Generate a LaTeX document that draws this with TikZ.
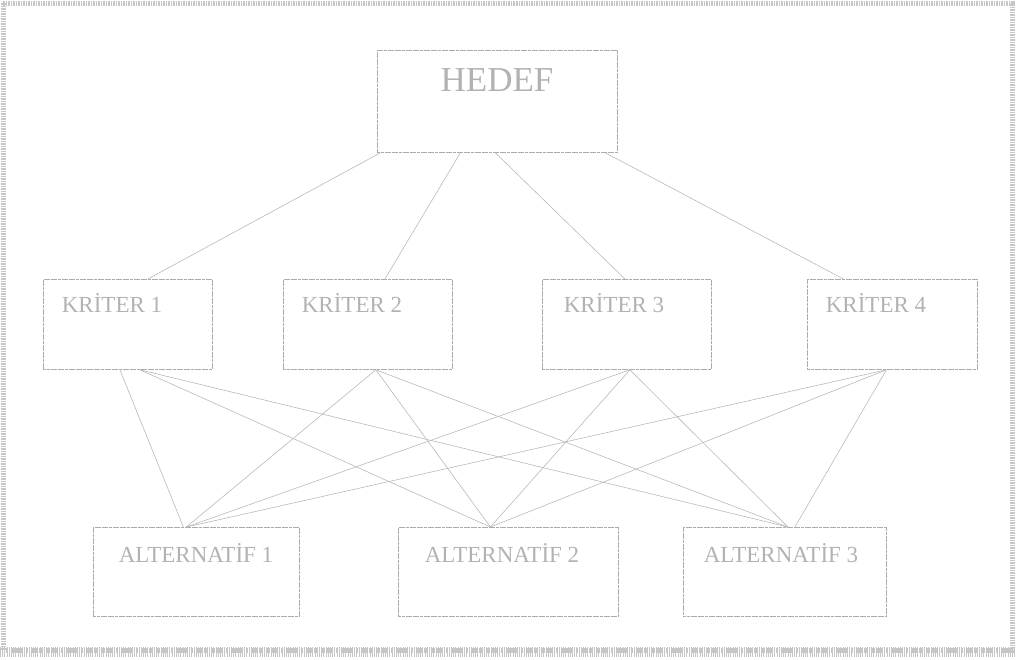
\documentclass[tikz,border=0pt]{standalone}
\usepackage{fontspec}
\setmainfont{Liberation Serif}
\begin{document}
\begin{tikzpicture}[x=1pt,y=-1pt,
  box/.style={draw=gray!65,line width=0.8pt,dash pattern=on 3pt off 0.6pt,inner sep=0pt,anchor=north west},
  lbl/.style={text=gray!60,font=\fontsize{23}{23}\selectfont,inner sep=0pt},
  conn/.style={draw=gray!55,line width=0.6pt},
  frame/.style={draw=gray!45,dash pattern=on 1.5pt off 1pt}]
\useasboundingbox (0,0) rectangle (1016,659);
% scanned frame
\draw[frame,line width=5pt] (3,3) rectangle (1012,650);
\draw[frame,line width=10pt,dash pattern=on 1pt off 1.2pt] (0,652) -- (1016,652);
% boxes
\node[box,minimum width=240pt,minimum height=102pt] (h) at (377,50) {};
\node[box,minimum width=169pt,minimum height=90pt] (k1) at (43,279) {};
\node[box,minimum width=169pt,minimum height=90pt] (k2) at (283,279) {};
\node[box,minimum width=169pt,minimum height=90pt] (k3) at (542,279) {};
\node[box,minimum width=170pt,minimum height=90pt] (k4) at (807,279) {};
\node[box,minimum width=206pt,minimum height=89pt] (a1) at (93,527) {};
\node[box,minimum width=220pt,minimum height=89pt] (a2) at (398,527) {};
\node[box,minimum width=203pt,minimum height=89pt] (a3) at (683,527) {};
% labels
\node[lbl,font=\fontsize{35}{35}\selectfont] (th) at (497,80) {HEDEF};
\node[lbl] (tk1) at (112,303) {KRİTER 1};
\node[lbl] (tk2) at (352,303) {KRİTER 2};
\node[lbl] (tk3) at (614,303) {KRİTER 3};
\node[lbl] (tk4) at (876,303) {KRİTER 4};
\node[lbl] (ta1) at (196,553) {ALTERNATİF 1};
\node[lbl] (ta2) at (502,553) {ALTERNATİF 2};
\node[lbl] (ta3) at (781,553) {ALTERNATİF 3};
% goal to criteria
\draw[conn] ([xshift=-117pt]h.south) -- ([xshift=20pt]k1.north);
\draw[conn] ([xshift=-37pt]h.south) -- ([xshift=17pt]k2.north);
\draw[conn] ([xshift=-2pt]h.south) -- ([xshift=-2pt]k3.north);
\draw[conn] ([xshift=108pt]h.south) -- ([xshift=-49pt]k4.north);
% criteria to alternatives
\draw[conn] ([xshift=-8pt]k1.south) -- ([xshift=-13pt]a1.north);
\draw[conn] ([xshift=12pt]k1.south) -- ([xshift=-18pt]a2.north);
\draw[conn] ([xshift=12pt]k1.south) -- ([xshift=3pt]a3.north);
\draw[conn] ([xshift=8pt]k2.south) -- ([xshift=-10pt]a1.north);
\draw[conn] ([xshift=8pt]k2.south) -- ([xshift=-18pt]a2.north);
\draw[conn] ([xshift=8pt]k2.south) -- ([xshift=3pt]a3.north);
\draw[conn] ([xshift=3pt]k3.south) -- ([xshift=-10pt]a1.north);
\draw[conn] ([xshift=3pt]k3.south) -- ([xshift=-18pt]a2.north);
\draw[conn] ([xshift=3pt]k3.south) -- ([xshift=3pt]a3.north);
\draw[conn] ([xshift=-6pt]k4.south) -- ([xshift=-10pt]a1.north);
\draw[conn] ([xshift=-6pt]k4.south) -- ([xshift=-18pt]a2.north);
\draw[conn] ([xshift=-6pt]k4.south) -- ([xshift=10pt]a3.north);
\end{tikzpicture}
\end{document}
